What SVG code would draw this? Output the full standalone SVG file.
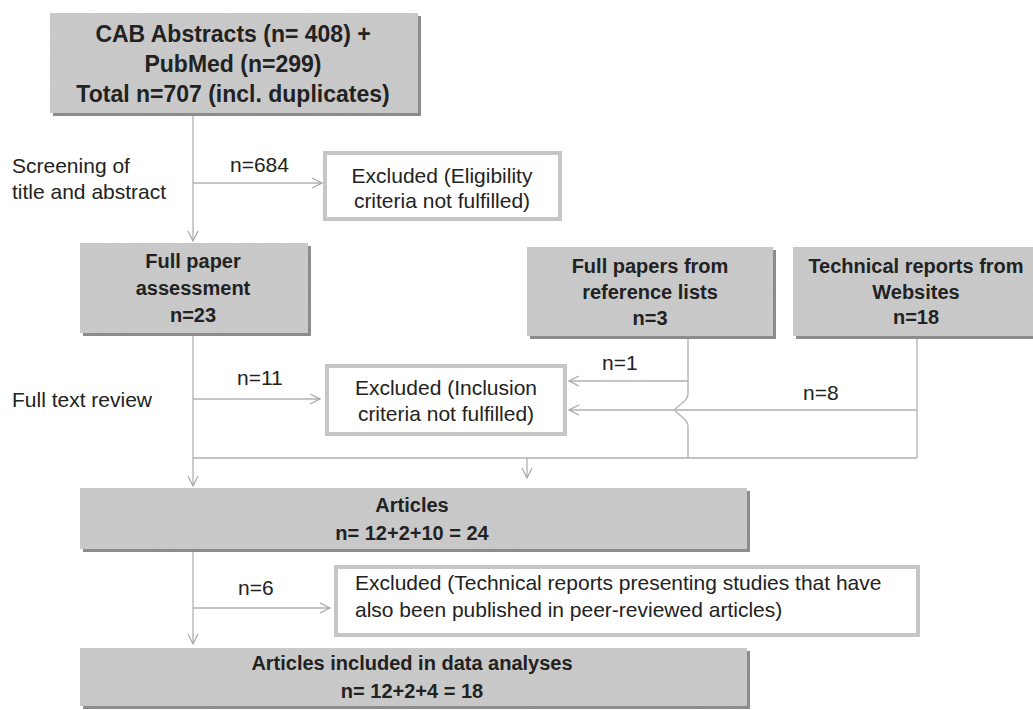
<svg xmlns="http://www.w3.org/2000/svg" width="1033" height="710" viewBox="0 0 1033 710">
<defs>
<filter id="grain" x="0" y="0" width="100%" height="100%">
<feTurbulence type="fractalNoise" baseFrequency="0.8" numOctaves="2" seed="3" result="n"/>
<feColorMatrix in="n" type="matrix" values="0 0 0 0 0.55  0 0 0 0 0.55  0 0 0 0 0.55  0 0 0 -0.9 0.75" result="g"/>
<feComposite in="g" in2="SourceGraphic" operator="in" result="gc"/>
<feMerge><feMergeNode in="SourceGraphic"/><feMergeNode in="gc"/></feMerge>
</filter>
<marker id="arr" viewBox="0 0 12 12" refX="11" refY="6" markerWidth="12" markerHeight="12" markerUnits="userSpaceOnUse" orient="auto">
<path d="M1,1 L11,6 L1,11" fill="none" stroke="#a8a8a8" stroke-width="1.2"/>
</marker>
</defs>
<style>
.box{fill:#cbcbcb;filter:url(#grain)}
.shadow{fill:#8c8c8c}
.ex{fill:#ffffff;stroke:#c6c6c6;stroke-width:4}
.t{font-family:"Liberation Sans",Arial,sans-serif;fill:#222}
.b{font-weight:bold;font-size:20px;text-anchor:middle}
.r{font-size:21px}
.c{text-anchor:middle}
.ln{fill:none;stroke:#b0b0b0;stroke-width:1.3}
</style>
<rect width="1033" height="710" fill="#ffffff"/>

<g id="cab">
<rect class="shadow" x="53" y="16" width="368" height="100"/>
<rect class="box" x="50" y="13" width="368" height="100"/>
<text class="t c" font-size="23" font-weight="bold" x="233" y="42">CAB Abstracts (n= 408) +</text>
<text class="t c" font-size="23" font-weight="bold" x="233" y="72">PubMed (n=299)</text>
<text class="t c" font-size="23" font-weight="bold" x="233" y="102">Total n=707 (incl. duplicates)</text>
</g>

<g id="side-labels">
<text class="t r" x="12" y="173">Screening of</text>
<text class="t r" x="12" y="199">title and abstract</text>
<text class="t r" x="12" y="407">Full text review</text>
</g>

<g id="excluded1">
<rect class="ex" x="325" y="153" width="235" height="66"/>
<text class="t r c" x="442" y="183">Excluded (Eligibility</text>
<text class="t r c" x="442" y="208">criteria not fulfilled)</text>
</g>

<g id="fullpaper">
<rect class="shadow" x="83" y="246" width="228" height="90"/>
<rect class="box" x="80" y="243" width="228" height="90"/>
<text class="t b" x="193" y="268">Full paper</text>
<text class="t b" x="193" y="295">assessment</text>
<text class="t b" x="193" y="322">n=23</text>
</g>

<g id="reflists">
<rect class="shadow" x="530" y="250" width="246" height="89"/>
<rect class="box" x="527" y="247" width="246" height="89"/>
<text class="t b" x="650" y="273">Full papers from</text>
<text class="t b" x="650" y="299">reference lists</text>
<text class="t b" x="650" y="325">n=3</text>
</g>

<g id="techreports">
<rect class="shadow" x="796" y="250" width="246" height="89"/>
<rect class="box" x="793" y="247" width="246" height="89"/>
<text class="t b" x="916" y="273">Technical reports from</text>
<text class="t b" x="916" y="299">Websites</text>
<text class="t b" x="916" y="324">n=18</text>
</g>

<g id="excluded2">
<rect class="ex" x="327" y="366" width="238" height="68"/>
<text class="t r c" x="446" y="395">Excluded (Inclusion</text>
<text class="t r c" x="446" y="421">criteria not fulfilled)</text>
</g>

<g id="articles">
<rect class="shadow" x="83" y="491" width="667" height="61"/>
<rect class="box" x="80" y="488" width="667" height="61"/>
<text class="t b" x="412" y="512">Articles</text>
<text class="t b" x="412" y="540">n= 12+2+10 = 24</text>
</g>

<g id="excluded3">
<rect class="ex" x="336" y="567" width="582" height="68"/>
<text class="t r" x="355" y="590">Excluded (Technical reports presenting studies that have</text>
<text class="t r" x="355" y="617">also been published in peer-reviewed articles)</text>
</g>

<g id="final">
<rect class="shadow" x="83" y="651" width="667" height="58"/>
<rect class="box" x="80" y="648" width="667" height="58"/>
<text class="t b" x="412" y="670">Articles included in data analyses</text>
<text class="t b" x="412" y="698">n= 12+2+4 = 18</text>
</g>

<g id="connectors">
<path class="ln" d="M193,116 V241" marker-end="url(#arr)"/>
<path class="ln" d="M193,183 H322" marker-end="url(#arr)"/>
<path class="ln" d="M193,336 V486" marker-end="url(#arr)"/>
<path class="ln" d="M193,399 H320" marker-end="url(#arr)"/>
<path class="ln" d="M688,339 V394 C688,402 677,405 675,410 C677,415 688,418 688,426 V458"/>
<path class="ln" d="M688,381 H569" marker-end="url(#arr)"/>
<path class="ln" d="M917,339 V458"/>
<path class="ln" d="M917,410 H569" marker-end="url(#arr)"/>
<path class="ln" d="M193,458 H917"/>
<path class="ln" d="M527,458 V478" marker-end="url(#arr)"/>
<path class="ln" d="M193,552 V644" marker-end="url(#arr)"/>
<path class="ln" d="M193,608 H330" marker-end="url(#arr)"/>
</g>

<g id="connector-labels">
<text class="t r" x="230" y="172">n=684</text>
<text class="t r" x="237" y="385">n=11</text>
<text class="t r" x="602" y="370">n=1</text>
<text class="t r" x="803" y="400">n=8</text>
<text class="t r" x="238" y="595">n=6</text>
</g>
</svg>
